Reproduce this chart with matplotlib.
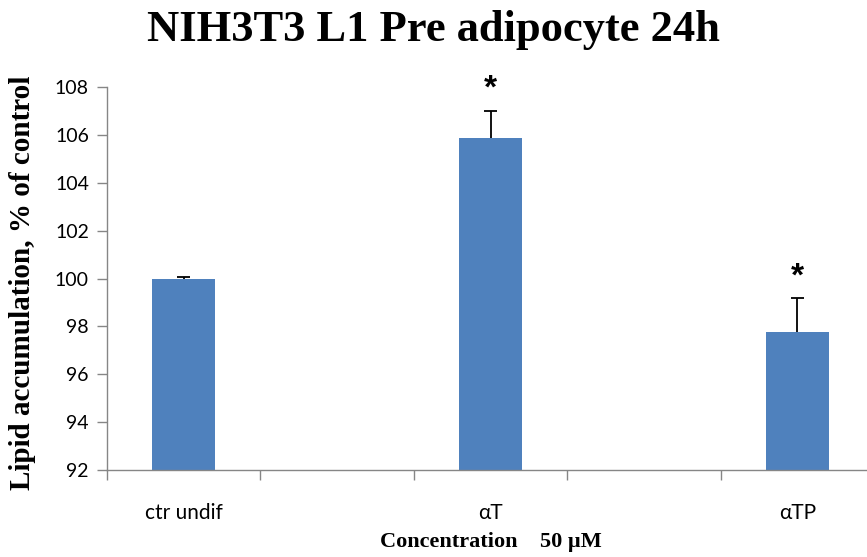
import matplotlib as mpl
import matplotlib.pyplot as plt
import numpy as np

mpl.rcParams["font.family"] = "Lato"

# lipid accumulation (% of control), 50 uM treatment, 24h
groups = ["ctr undif", "αT", "αTP"]
values = [100.0, 105.85, 97.78]
errors = [0.05, 1.15, 1.40]
significant = [False, True, True]

BAR_COLOR = "#4F81BD"
AXIS_COLOR = "#868686"
SERIF = "Liberation Serif"

fig = plt.figure(figsize=(8.67, 5.57), dpi=100)
ax = fig.add_axes([107 / 867, 1 - 470 / 557, 767 / 867, 383 / 557])

# groups sit on every other category slot, leaving blank slots between them
pos = np.arange(len(groups)) * 2
vals = np.array(values)
errs = np.array(errors)
ax.bar(pos, vals - 92, bottom=92, width=0.41, color=BAR_COLOR, zorder=2)

# upper-only error bars
ax.vlines(pos, vals, vals + errs, color="black", linewidth=1.3, zorder=3)
ax.hlines(vals + errs, pos - 0.042, pos + 0.042, color="black", linewidth=1.3, zorder=3)

for x, v, e, s in zip(pos, values, errors, significant):
    if s:
        ax.text(x, v + e + 0.9, "*", ha="center", va="center", fontsize=24,
                fontweight="bold", fontfamily="Liberation Sans", clip_on=False)

ax.set_xlim(-0.5, 4.5)
ax.set_ylim(92, 108)
ax.set_yticks(np.arange(92, 109, 2))
ax.set_xticks(pos)
ax.set_xticklabels(groups)
ax.set_xticks(np.arange(-0.5, 5, 1), minor=True)

ax.tick_params(axis="x", which="major", length=0, pad=24, labelsize=15)
ax.tick_params(axis="x", which="minor", length=7, color=AXIS_COLOR, width=1)
ax.tick_params(axis="y", length=7, color=AXIS_COLOR, width=1, labelsize=14, pad=6)

for side in ["top", "right"]:
    ax.spines[side].set_visible(False)
for side in ["left", "bottom"]:
    ax.spines[side].set_color(AXIS_COLOR)
    ax.spines[side].set_linewidth(1)

ax.set_ylabel("Lipid accumulation, % of control", fontfamily=SERIF,
              fontweight="bold", fontsize=21)
ax.yaxis.set_label_coords(-0.093, 0.49)
ax.set_xlabel("Concentration    50 µM", fontfamily=SERIF, fontweight="bold",
              fontsize=16, labelpad=6)
fig.text(0.5, 0.946, "NIH3T3 L1 Pre adipocyte 24h", ha="center", va="center",
         fontfamily=SERIF, fontweight="bold", fontsize=32)

fig.savefig("out.png", dpi=100)
